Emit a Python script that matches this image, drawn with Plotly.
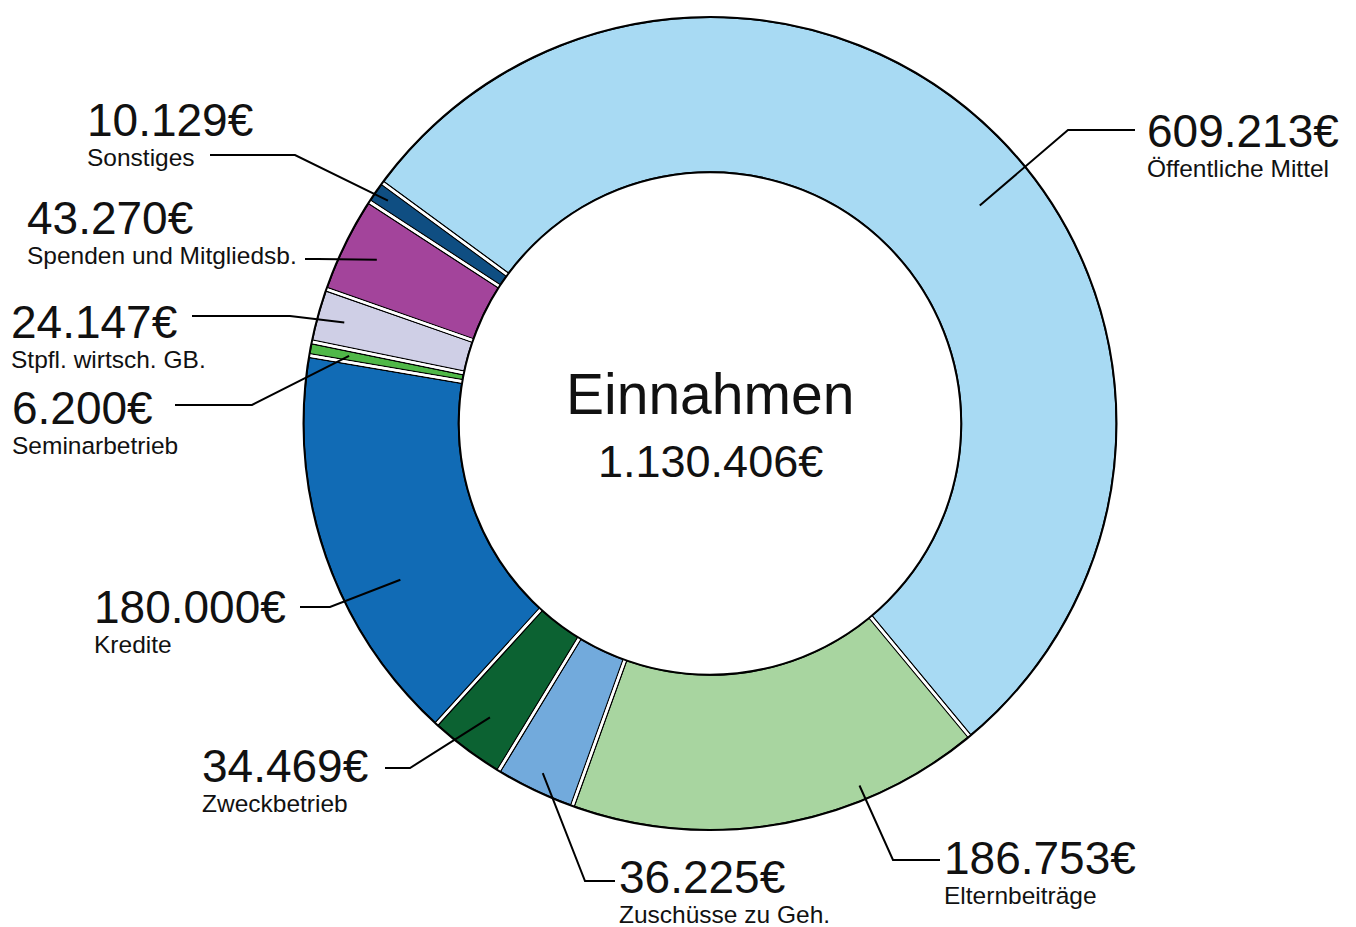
import math
import plotly.graph_objects as go

# ---- data ----
categories = ["Öffentliche Mittel", "Elternbeiträge", "Zuschüsse zu Geh.", "Zweckbetrieb",
              "Kredite", "Seminarbetrieb", "Stpfl. wirtsch. GB.", "Spenden und Mitgliedsb.",
              "Sonstiges"]
values = [609213, 186753, 36225, 34469, 180000, 6200, 24147, 43270, 10129]
title_text = "Einnahmen"

# ---- style ----
colors = ["#A8DAF3", "#A8D5A0", "#72AADC", "#0C6232", "#116BB5",
          "#50B848", "#CFCFE6", "#A3449B", "#0F4E82"]
W, H = 1356, 927
CX, CY, R = 710.0, 423.5, 408.0
HOLE = 0.612
ROTATION = -53.7
FONT = "Liberation Sans, Arial, sans-serif"
VAL_SIZE, NAME_SIZE, BASE_SIZE = 46, 24.5, 23

# label layout in pixels: text top-left, elbow, end, anchor fraction in slice, radial fraction
label_layout = [
    dict(t=(1146, 104), elbow=(1068, 130), end=(1135, 130), f=0.54, rf=0.85),
    dict(t=(943, 831), elbow=(893, 860), end=(940, 860), f=0.29, rf=0.96),
    dict(t=(618, 850), elbow=(585, 881), end=(615, 881), f=0.5, rf=0.95),
    dict(t=(201, 739), elbow=(410, 768), end=(385, 768), f=0.5, rf=0.9),
    dict(t=(93, 580), elbow=(330, 607), end=(300, 607), f=0.365, rf=0.85),
    dict(t=(11, 381), elbow=(252, 405), end=(175, 405), f=0.5, rf=0.9),
    dict(t=(10, 295), elbow=(290, 316), end=(192, 316), f=0.5, rf=0.93),
    dict(t=(26, 191), elbow=(318, 259), end=(305, 259), f=0.5, rf=0.91),
    dict(t=(86, 93), elbow=(295, 155), end=(210, 155), f=0.5, rf=0.96),
]


def fmt_eur(v):
    return f"{v:,}".replace(",", ".") + "€"


def px(x):
    return x / W


def py(y):
    return 1 - y / H


domain = dict(x=[px(CX - R), px(CX + R)], y=[py(CY + R), py(CY - R)])

fig = go.Figure()
# base slices with black outline
fig.add_trace(go.Pie(labels=categories, values=values, sort=False, direction="clockwise",
                     rotation=ROTATION, hole=HOLE, domain=domain, textinfo="none",
                     marker=dict(colors=colors, line=dict(color="black", width=5)),
                     showlegend=False, hoverinfo="label+value"))
# white gap between slices
fig.add_trace(go.Pie(labels=categories, values=values, sort=False, direction="clockwise",
                     rotation=ROTATION, hole=HOLE, domain=domain, textinfo="none",
                     marker=dict(colors=["rgba(0,0,0,0)"] * len(values),
                                 line=dict(color="white", width=2.5)),
                     showlegend=False, hoverinfo="skip"))


def circle(rad, color, width):
    return dict(type="circle", xref="paper", yref="paper",
                x0=px(CX - rad), x1=px(CX + rad), y0=py(CY + rad), y1=py(CY - rad),
                line=dict(color=color, width=width), fillcolor="rgba(0,0,0,0)")


r_in = R * HOLE
shapes = [circle(R + 1.4, "white", 5.3), circle(R - 1.5, "black", 2),
          circle(r_in - 1.4, "white", 5.3), circle(r_in + 1.5, "black", 2)]

annotations = []
total = sum(values)
cum = 0.0
for cat, val, lay in zip(categories, values, label_layout):
    a0 = ROTATION + 360.0 * cum / total
    a1 = ROTATION + 360.0 * (cum + val) / total
    cum += val
    ang = math.radians(a0 + (a1 - a0) * lay["f"])
    r = R * lay["rf"]
    sx, sy = CX + r * math.sin(ang), CY - r * math.cos(ang)
    ex, ey = lay["elbow"]
    tx, ty = lay["end"]
    shapes.append(dict(type="path", xref="paper", yref="paper",
                       path=f"M {px(sx)},{py(sy)} L {px(ex)},{py(ey)} L {px(tx)},{py(ty)}",
                       line=dict(color="black", width=2)))
    annotations.append(dict(
        x=px(lay["t"][0]), y=py(lay["t"][1]), xref="paper", yref="paper",
        text=(f"<span style='font-size:{VAL_SIZE}px'>{fmt_eur(val)}</span><br>"
              f"<span style='font-size:{NAME_SIZE}px'>{cat}</span>"),
        showarrow=False, xanchor="left", yanchor="top", align="left",
        borderpad=0, font=dict(family=FONT, size=BASE_SIZE, color="#111")))

annotations.append(dict(x=px(CX), y=py(394), xref="paper", yref="paper", text=title_text,
                        showarrow=False, xanchor="center", yanchor="middle",
                        font=dict(family=FONT, size=57, color="#111")))
annotations.append(dict(x=px(CX), y=py(461.5), xref="paper", yref="paper", text=fmt_eur(total),
                        showarrow=False, xanchor="center", yanchor="middle",
                        font=dict(family=FONT, size=45, color="#111")))

fig.update_layout(width=W, height=H, margin=dict(l=0, r=0, t=0, b=0),
                  paper_bgcolor="white", plot_bgcolor="white",
                  shapes=shapes, annotations=annotations, showlegend=False)

fig.write_html("out.html", config={"displayModeBar": False},
               post_script="document.body.style.margin='0';document.body.style.overflow='hidden';")
